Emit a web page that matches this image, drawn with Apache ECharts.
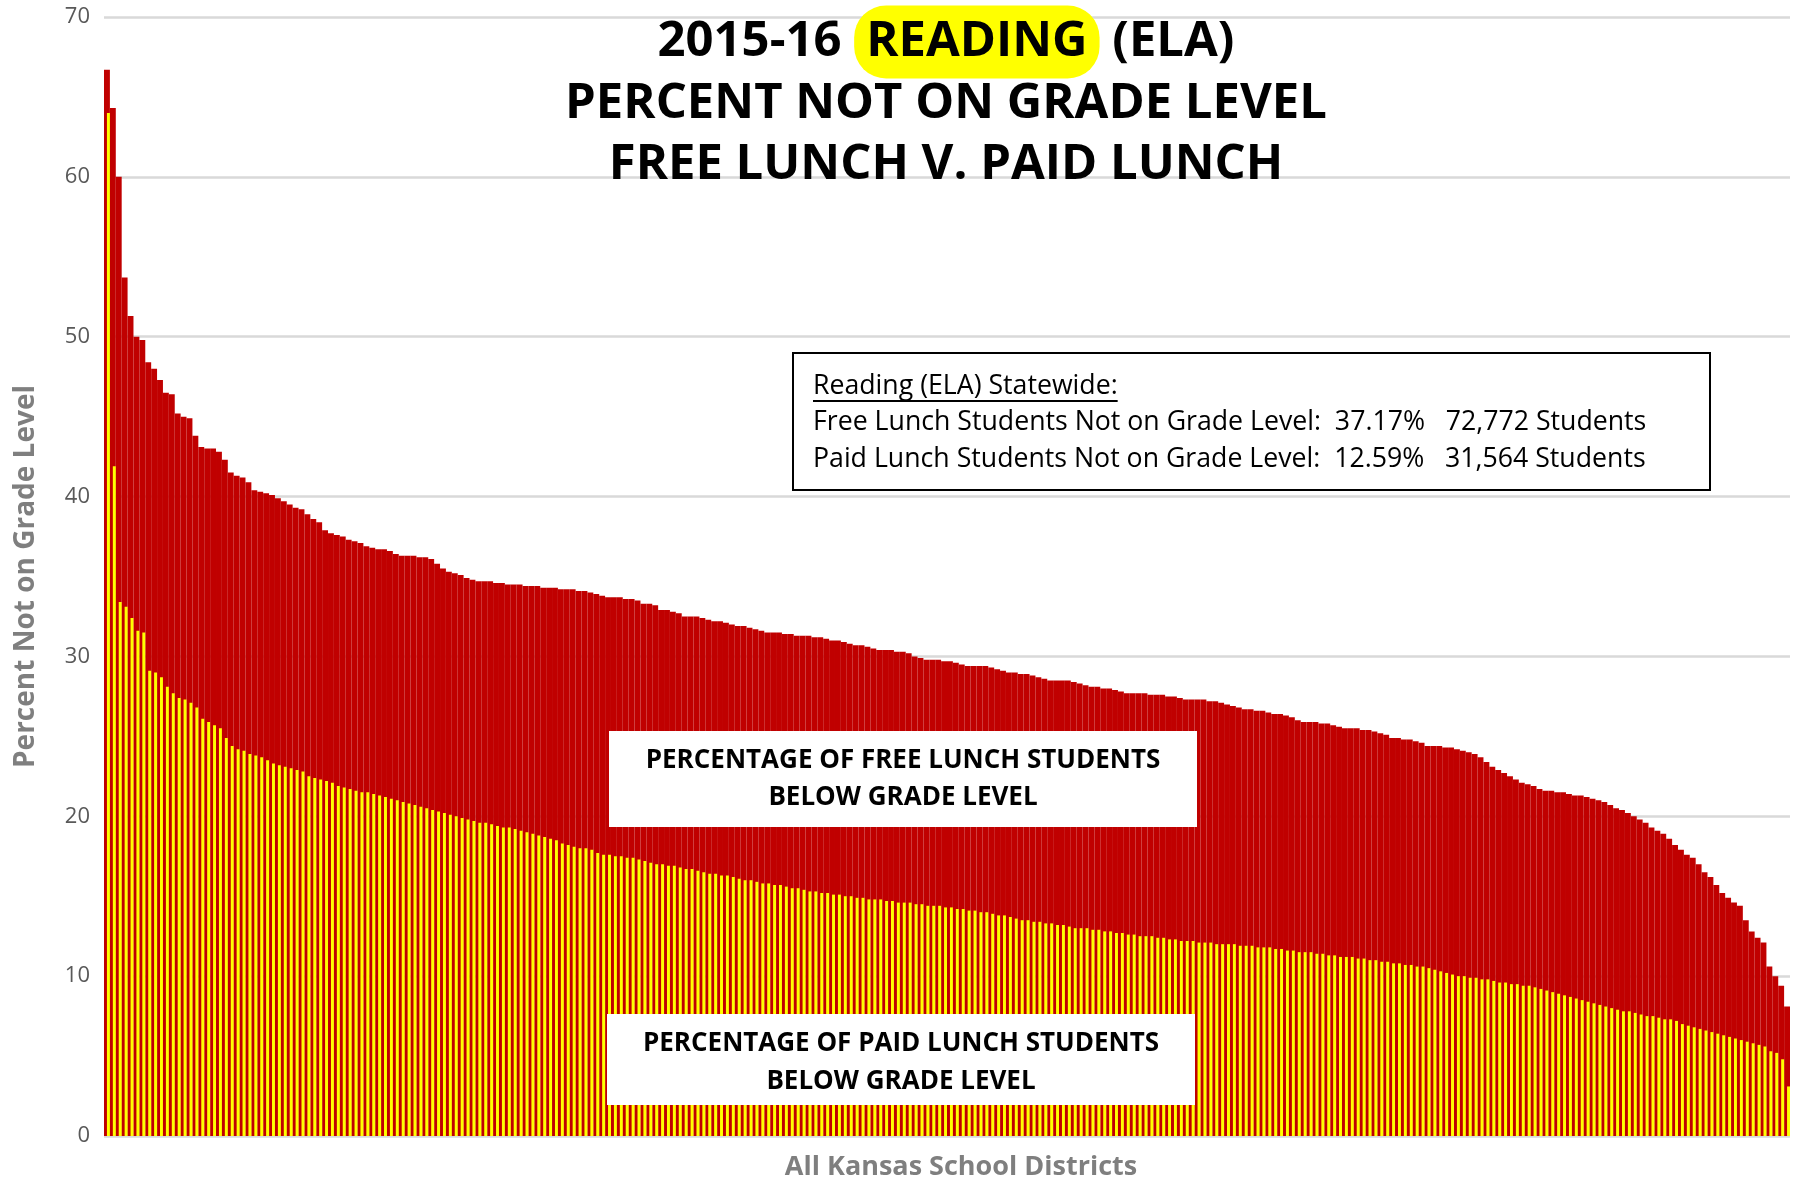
<!DOCTYPE html>
<html><head><meta charset="utf-8">
<script src="https://cdn.jsdelivr.net/npm/echarts@6/dist/echarts.min.js"></script>
<style>html,body{margin:0;padding:0;background:#fff}#c{width:1796px;height:1183px}</style>
</head><body><div id="c"></div>
<script>
// Percent of FREE lunch students not on grade level, per district (sorted)
const freeLunch = [
66.7,64.3,60.0,53.7,51.3,50.0,49.8,48.4,48.0,47.3,
46.5,46.4,45.2,45.0,44.9,43.8,43.1,43.0,43.0,42.8,
42.3,41.5,41.3,41.2,40.9,40.4,40.3,40.2,40.1,39.9,
39.7,39.5,39.3,39.2,38.9,38.6,38.4,37.9,37.7,37.6,
37.5,37.3,37.2,37.1,36.9,36.8,36.7,36.7,36.6,36.4,
36.3,36.3,36.3,36.2,36.2,36.1,35.8,35.5,35.3,35.2,
35.1,34.9,34.8,34.7,34.7,34.7,34.6,34.6,34.5,34.5,
34.5,34.4,34.4,34.4,34.3,34.3,34.3,34.2,34.2,34.2,
34.1,34.1,34.0,33.9,33.8,33.7,33.7,33.7,33.6,33.6,
33.5,33.3,33.3,33.2,32.9,32.9,32.8,32.7,32.5,32.5,
32.5,32.4,32.3,32.2,32.2,32.1,32.0,31.9,31.9,31.8,
31.7,31.6,31.5,31.5,31.5,31.4,31.4,31.3,31.3,31.3,
31.2,31.2,31.1,31.0,31.0,30.9,30.8,30.7,30.7,30.6,
30.5,30.4,30.4,30.4,30.3,30.3,30.2,30.0,29.9,29.8,
29.8,29.8,29.7,29.7,29.6,29.5,29.4,29.4,29.4,29.4,
29.3,29.2,29.1,29.0,29.0,28.9,28.9,28.8,28.7,28.6,
28.5,28.5,28.5,28.5,28.4,28.3,28.2,28.1,28.1,28.0,
28.0,27.9,27.8,27.7,27.7,27.7,27.7,27.6,27.6,27.6,
27.5,27.5,27.4,27.3,27.3,27.3,27.3,27.2,27.2,27.1,
27.0,26.9,26.8,26.7,26.7,26.6,26.6,26.5,26.4,26.4,
26.3,26.2,26.0,25.9,25.9,25.9,25.8,25.8,25.7,25.6,
25.5,25.5,25.5,25.4,25.4,25.3,25.2,25.1,24.9,24.9,
24.8,24.8,24.7,24.6,24.4,24.4,24.4,24.3,24.3,24.2,
24.1,24.0,23.9,23.7,23.4,23.1,22.9,22.7,22.5,22.3,
22.1,22.0,21.9,21.7,21.6,21.6,21.5,21.5,21.4,21.3,
21.3,21.2,21.1,21.0,20.9,20.7,20.5,20.4,20.2,20.0,
19.8,19.6,19.3,19.1,18.9,18.6,18.2,17.9,17.6,17.4,
17.0,16.5,16.2,15.7,15.2,14.9,14.6,14.4,13.5,12.8,
12.4,12.1,10.6,10.0,9.4,8.1
];
// Percent of PAID lunch students not on grade level, per district (sorted)
const paidLunch = [
64.0,41.9,33.4,33.1,32.4,31.6,31.5,29.1,29.0,28.7,
28.1,27.7,27.4,27.3,27.1,26.8,26.1,25.9,25.7,25.5,
24.9,24.4,24.2,24.1,23.9,23.8,23.7,23.5,23.3,23.2,
23.1,23.0,22.9,22.8,22.5,22.4,22.3,22.2,22.1,21.9,
21.8,21.7,21.6,21.5,21.5,21.4,21.3,21.2,21.1,21.0,
20.9,20.8,20.7,20.6,20.5,20.4,20.3,20.2,20.1,20.0,
19.9,19.8,19.7,19.6,19.6,19.5,19.4,19.3,19.3,19.2,
19.1,19.0,18.9,18.8,18.7,18.6,18.5,18.3,18.2,18.1,
18.0,18.0,17.9,17.7,17.6,17.6,17.5,17.5,17.4,17.4,
17.3,17.2,17.1,17.0,17.0,16.9,16.9,16.8,16.7,16.7,
16.6,16.5,16.4,16.4,16.3,16.3,16.2,16.1,16.0,16.0,
15.9,15.8,15.8,15.7,15.7,15.6,15.5,15.5,15.4,15.3,
15.3,15.2,15.2,15.1,15.1,15.0,15.0,14.9,14.9,14.8,
14.8,14.8,14.7,14.7,14.6,14.6,14.6,14.5,14.5,14.4,
14.4,14.4,14.3,14.3,14.2,14.2,14.1,14.1,14.0,14.0,
13.9,13.8,13.8,13.7,13.6,13.5,13.5,13.4,13.4,13.3,
13.3,13.2,13.2,13.1,13.0,13.0,13.0,12.9,12.9,12.8,
12.8,12.7,12.7,12.6,12.6,12.5,12.5,12.5,12.4,12.4,
12.3,12.3,12.2,12.2,12.2,12.1,12.1,12.1,12.0,12.0,
12.0,12.0,11.9,11.9,11.9,11.8,11.8,11.8,11.7,11.7,
11.6,11.6,11.5,11.5,11.5,11.4,11.4,11.3,11.3,11.2,
11.2,11.2,11.1,11.1,11.0,11.0,10.9,10.9,10.8,10.8,
10.7,10.7,10.6,10.6,10.5,10.4,10.3,10.2,10.1,10.0,
10.0,9.9,9.9,9.8,9.8,9.7,9.6,9.6,9.5,9.5,
9.4,9.4,9.3,9.2,9.1,9.0,8.9,8.8,8.7,8.6,
8.5,8.4,8.3,8.2,8.1,8.0,7.9,7.8,7.8,7.7,
7.6,7.5,7.5,7.4,7.3,7.3,7.2,7.0,6.9,6.8,
6.7,6.6,6.5,6.4,6.3,6.2,6.1,6.0,5.9,5.8,
5.7,5.6,5.3,5.2,4.8,3.1
];
const yTicks = [0, 10, 20, 30, 40, 50, 60, 70];
const titleLines = ['2015-16 ', 'READING', ' (ELA)', 'PERCENT NOT ON GRADE LEVEL', 'FREE LUNCH V. PAID LUNCH'];
const boxLines = ['Reading (ELA) Statewide:',
  'Free Lunch Students Not on Grade Level:  37.17%   72,772 Students',
  'Paid Lunch Students Not on Grade Level:  12.59%   31,564 Students'];
const freeLabel = 'PERCENTAGE OF FREE LUNCH STUDENTS\nBELOW GRADE LEVEL';
const paidLabel = 'PERCENTAGE OF PAID LUNCH STUDENTS\nBELOW GRADE LEVEL';
const districtRank = freeLunch.map((_, i) => String(i + 1));

const FONT = '"Open Sans", "Noto Sans", sans-serif';
const chart = echarts.init(document.getElementById('c'), null, {renderer: 'canvas'});

function textWidth(str, font) {
  const c = document.createElement('canvas').getContext('2d');
  c.font = font;
  return c.measureText(str).width;
}
const boxFontSize = 26.7;
const underlineW = textWidth(boxLines[0], '400 ' + boxFontSize + 'px "Open Sans"');

const titleStyle = {fontFamily: FONT, fontWeight: 700, fontSize: 49, fill: '#000', color: '#000'};

chart.setOption({
  animation: false,
  backgroundColor: '#fff',
  grid: {left: 104, right: 6, top: 17, bottom: 47, containLabel: false, outerBoundsMode: 'none'},
  xAxis: {
    type: 'category', data: districtRank,
    axisLine: {show: false}, axisTick: {show: false}, axisLabel: {show: false},
    name: 'All Kansas School Districts', nameLocation: 'middle', nameGap: 18,
    nameTextStyle: {fontFamily: FONT, fontWeight: 700, fontSize: 27, color: '#7f7f7f', padding: [0, 0, 0, 28]}
  },
  yAxis: {
    type: 'value', min: yTicks[0], max: yTicks[yTicks.length - 1], interval: 10,
    axisLine: {show: false}, axisTick: {show: false},
    axisLabel: {fontFamily: FONT, fontSize: 22, color: '#595959', margin: 14},
    splitLine: {lineStyle: {color: '#d9d9d9', width: 2.5}},
    name: 'Percent Not on Grade Level', nameLocation: 'middle', nameGap: 64,
    nameTextStyle: {fontFamily: FONT, fontWeight: 700, fontSize: 28, color: '#7f7f7f'}
  },
  series: [
    {name: 'Free Lunch', type: 'bar', data: freeLunch, barWidth: '100%', barGap: '-50%',
     itemStyle: {color: '#c00000'}},
    {name: 'Paid Lunch', type: 'bar', data: paidLunch, barWidth: '50%', barGap: '-50%',
     itemStyle: {color: '#ffff00'}}
  ],
  graphic: [
    {type: 'text', x: 946, y: 42, z: 100, style: {
      text: '{a|' + titleLines[0] + '}{h|' + titleLines[1] + '}{a|' + titleLines[2] + '}',
      align: 'center', verticalAlign: 'middle', textAlign: 'center', textVerticalAlign: 'middle',
      rich: {
        a: Object.assign({}, titleStyle, {lineHeight: 72}),
        h: Object.assign({}, titleStyle, {backgroundColor: '#ffff00', borderRadius: 32, padding: [12, 12, 12, 12], lineHeight: 48})
      }}},
    {type: 'text', x: 946, y: 104, z: 100, style: Object.assign({text: titleLines[3], align: 'center', verticalAlign: 'middle', textAlign: 'center', textVerticalAlign: 'middle'}, titleStyle)},
    {type: 'text', x: 946, y: 165, z: 100, style: Object.assign({text: titleLines[4], align: 'center', verticalAlign: 'middle', textAlign: 'center', textVerticalAlign: 'middle'}, titleStyle)},
    // statewide info box
    {type: 'rect', z: 100, shape: {x: 793, y: 353, width: 917, height: 137},
     style: {fill: '#fff', stroke: '#000', lineWidth: 2}},
    {type: 'text', z: 101, x: 813, y: 386, style: {text: boxLines[0], fontFamily: FONT, fontSize: boxFontSize, fill: '#000', verticalAlign: 'middle', textVerticalAlign: 'middle'}},
    {type: 'line', z: 101, shape: {x1: 813, y1: 401, x2: 813 + underlineW, y2: 401}, style: {stroke: '#000', lineWidth: 2}},
    {type: 'text', z: 101, x: 813, y: 422, style: {text: boxLines[1], fontFamily: FONT, fontSize: boxFontSize, fill: '#000', verticalAlign: 'middle', textVerticalAlign: 'middle'}},
    {type: 'text', z: 101, x: 813, y: 459, style: {text: boxLines[2], fontFamily: FONT, fontSize: boxFontSize, fill: '#000', verticalAlign: 'middle', textVerticalAlign: 'middle'}},
    // series annotation boxes
    {type: 'rect', z: 100, shape: {x: 609, y: 731, width: 588, height: 96}, style: {fill: '#fff'}},
    {type: 'text', z: 101, x: 903, y: 779, style: {text: freeLabel, fontFamily: FONT, fontWeight: 700, fontSize: 26, lineHeight: 37, fill: '#000', align: 'center', verticalAlign: 'middle', textAlign: 'center', textVerticalAlign: 'middle'}},
    {type: 'rect', z: 100, shape: {x: 607, y: 1014, width: 588, height: 91}, style: {fill: '#fff'}},
    {type: 'text', z: 101, x: 901, y: 1063, style: {text: paidLabel, fontFamily: FONT, fontWeight: 700, fontSize: 26, lineHeight: 38, fill: '#000', align: 'center', verticalAlign: 'middle', textAlign: 'center', textVerticalAlign: 'middle'}}
  ]
});
</script>
</body></html>
